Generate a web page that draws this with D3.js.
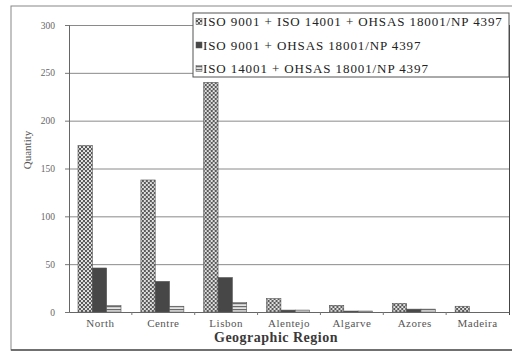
<!DOCTYPE html>
<html>
<head>
<meta charset="utf-8">
<script src="https://cdn.jsdelivr.net/npm/d3@7"></script>
<style>
  html, body { margin: 0; padding: 0; background: #fff; }
  svg { display: block; }
  text { font-family: "Liberation Serif", "DejaVu Serif", serif; }
</style>
</head>
<body>
<svg id="chart" width="512" height="352"></svg>
<script>
// Certified companies by geographic region
const regions = ["North", "Centre", "Lisbon", "Alentejo", "Algarve", "Azores", "Madeira"];
const seriesNames = [
  "ISO 9001 + ISO 14001 + OHSAS 18001/NP 4397",
  "ISO 9001 + OHSAS 18001/NP 4397",
  "ISO 14001 + OHSAS 18001/NP 4397"
];
const allThree   = [174, 138, 240, 14, 7, 9, 6];
const qualSafety = [46, 32, 36, 2, 1, 3, 0];
const envSafety  = [7, 6, 10, 2, 1, 3, 0];
const yTicks = [0, 50, 100, 150, 200, 250, 300];

const seriesValues = [allThree, qualSafety, envSafety];
const rows = regions.map((r, i) => ({
  region: r,
  values: seriesValues.map((s, k) => ({ key: k, value: s[i] }))
}));

const svg = d3.select("#chart");
const plot = { left: 69, right: 509, top: 25, bottom: 312 };

// fills: dotted check, solid dark, horizontal stripes
const defs = svg.append("defs");
const p0 = defs.append("pattern").attr("id", "fill0")
  .attr("patternUnits", "userSpaceOnUse").attr("width", 4).attr("height", 4);
p0.append("rect").attr("width", 4).attr("height", 4).attr("fill", "#5a5a5a");
p0.append("circle").attr("cx", 1).attr("cy", 1).attr("r", 1.05).attr("fill", "#f2f2f2");
p0.append("circle").attr("cx", 3).attr("cy", 3).attr("r", 1.05).attr("fill", "#f2f2f2");
const p2 = defs.append("pattern").attr("id", "fill2")
  .attr("patternUnits", "userSpaceOnUse").attr("width", 4).attr("height", 3);
p2.append("rect").attr("width", 4).attr("height", 3).attr("fill", "#e4e4e4");
p2.append("rect").attr("width", 4).attr("height", 1.2).attr("fill", "#6a6a6a");
const fills = ["url(#fill0)", "#474747", "url(#fill2)"];

// outer frame
svg.append("rect").attr("x", 11).attr("y", 6).attr("width", 520).attr("height", 344)
  .attr("fill", "none").attr("stroke", "#888").attr("stroke-width", 1);
svg.append("line").attr("x1", 11).attr("x2", 512).attr("y1", 350).attr("y2", 350)
  .attr("stroke", "#555").attr("stroke-width", 1.5);

const x0 = d3.scaleBand().domain(regions).range([plot.left, plot.right]).padding(0);
const x1 = d3.scaleBand().domain([0, 1, 2]).range([9, 52]).padding(0);
const y = d3.scaleLinear().domain([0, 300]).range([plot.bottom, plot.top]);

// gridlines
svg.append("g").selectAll("line").data(yTicks.filter(t => t > 0)).join("line")
  .attr("x1", plot.left).attr("x2", plot.right)
  .attr("y1", d => y(d) + 0.5).attr("y2", d => y(d) + 0.5)
  .attr("stroke", "#8a8a8a").attr("stroke-width", 1);

// right border of plot area
svg.append("line").attr("x1", plot.right + 0.5).attr("x2", plot.right + 0.5)
  .attr("y1", plot.top).attr("y2", plot.bottom + 3)
  .attr("stroke", "#444").attr("stroke-width", 1);

// bars
const groups = svg.append("g").selectAll("g").data(rows).join("g")
  .attr("transform", d => `translate(${x0(d.region)},0)`);
groups.selectAll("rect").data(d => d.values.filter(v => v.value > 0)).join("rect")
  .attr("x", v => x1(v.key))
  .attr("y", v => y(v.value))
  .attr("width", x1.bandwidth())
  .attr("height", v => y(0) - y(v.value))
  .attr("fill", v => fills[v.key])
  .attr("stroke", "#555").attr("stroke-width", 0.6);

// y axis
const yAxis = svg.append("g").attr("transform", `translate(${plot.left},0)`)
  .call(d3.axisLeft(y).tickValues(yTicks).tickSize(4).tickPadding(10));
yAxis.select(".domain").attr("stroke", "#666");
yAxis.selectAll(".tick line").attr("stroke", "#777");
yAxis.selectAll("text").attr("fill", "#666").attr("font-size", 9.5)
  .attr("font-family", "Liberation Serif, serif");

// x axis
const xAxis = svg.append("g").attr("transform", `translate(0,${plot.bottom})`)
  .call(d3.axisBottom(x0).tickSize(0).tickPadding(7));
xAxis.select(".domain").attr("stroke", "#666");
xAxis.selectAll("text").attr("fill", "#555").attr("font-size", 11)
  .attr("letter-spacing", 0.5).attr("font-family", "Liberation Serif, serif");
svg.append("g").selectAll("line").data(regions.slice(1)).join("line")
  .attr("x1", d => x0(d)).attr("x2", d => x0(d))
  .attr("y1", plot.bottom).attr("y2", plot.bottom + 3)
  .attr("stroke", "#777");

// axis titles
svg.append("text").attr("transform", "translate(31,150) rotate(-90)")
  .attr("text-anchor", "middle").attr("font-size", 11).attr("fill", "#555")
  .text("Quantity");
svg.append("text").attr("x", 276).attr("y", 342)
  .attr("text-anchor", "middle").attr("font-size", 14).attr("font-weight", "bold")
  .attr("letter-spacing", 0.5).attr("fill", "#3a3a3a")
  .text("Geographic Region");

// legend
const lg = svg.append("g");
lg.append("rect").attr("x", 193).attr("y", 13).attr("width", 316).attr("height", 64)
  .attr("fill", "#fff").attr("stroke", "#555").attr("stroke-width", 1);
const items = lg.selectAll("g.item").data(seriesNames).join("g")
  .attr("class", "item")
  .attr("transform", (d, i) => `translate(196,${22 + i * 23.5})`);
items.append("rect").attr("x", 0).attr("y", -3.5).attr("width", 6).attr("height", 6)
  .attr("fill", (d, i) => fills[i]).attr("stroke", "#555").attr("stroke-width", 0.5);
items.append("text").attr("x", 7).attr("y", 4).attr("font-size", 13)
  .attr("letter-spacing", 0.9).attr("fill", "#222").text(d => d);
</script>
</body>
</html>
